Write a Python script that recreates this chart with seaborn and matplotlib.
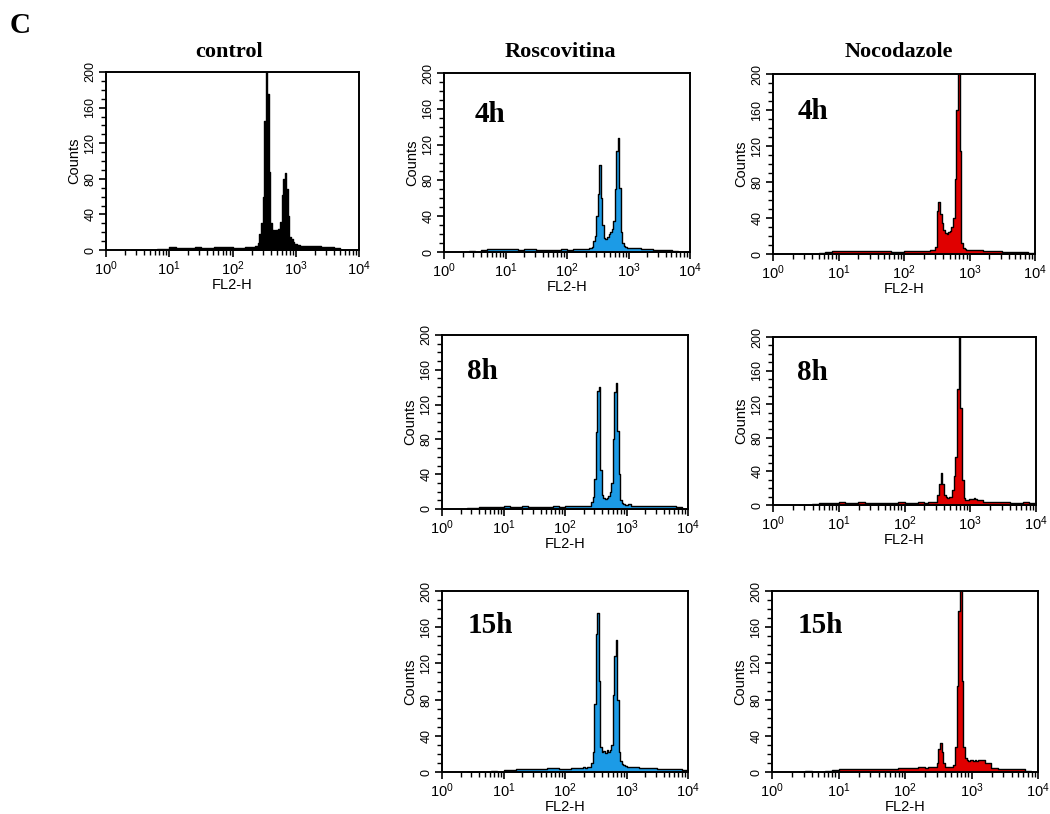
import numpy as np
import matplotlib
matplotlib.use("Agg")
import matplotlib.pyplot as plt
from matplotlib.ticker import MultipleLocator, LogLocator, NullFormatter
import seaborn as sns

# FL2-H bins in log10 units: coarse below the G1 peak, fine across G1/G2, coarse above
edges_log = np.concatenate([
    np.linspace(0.4, 2.3, 20)[:-1],
    np.linspace(2.3, 3.1, 33)[:-1],
    np.linspace(3.1, 4.0, 10),
])

# counts per bin: 19 low bins | 32 fine bins | 9 high bins
control = (
    [0, 0, 0, 0, 1, 1, 3, 2, 2, 2, 3, 2, 2, 3, 3, 3, 2, 2, 3]
    + [3, 3, 4, 5, 8, 18, 30, 60, 145, 215, 175, 88, 30, 22, 20, 22,
       20, 24, 32, 62, 80, 86, 68, 38, 15, 12, 9, 7, 7, 6, 6, 5]
    + [5, 4, 4, 3, 3, 2, 0, 0, 0]
)
rosco_4h = (
    [1, 0, 2, 3, 3, 3, 3, 3, 2, 3, 3, 2, 2, 2, 2, 3, 2, 3, 3]
    + [3, 3, 4, 4, 6, 12, 18, 40, 65, 97, 60, 30, 16, 15, 17, 20,
       22, 26, 35, 70, 113, 127, 72, 22, 10, 7, 6, 5, 5, 5, 4, 4]
    + [4, 3, 3, 2, 2, 2, 1, 0, 0]
)
rosco_8h = (
    [1, 1, 2, 2, 2, 2, 3, 2, 2, 3, 2, 2, 2, 2, 3, 2, 4, 3, 3]
    + [3, 3, 3, 3, 4, 8, 14, 35, 88, 136, 140, 45, 16, 13, 12, 13,
       15, 20, 30, 80, 135, 145, 90, 40, 10, 7, 6, 5, 5, 6, 6, 4]
    + [4, 3, 3, 3, 3, 3, 3, 2, 0]
)
rosco_15h = (
    [0, 0, 0, 0, 1, 0, 2, 2, 3, 3, 3, 3, 3, 4, 4, 3, 3, 4, 4]
    + [5, 4, 5, 5, 6, 10, 22, 75, 153, 176, 100, 28, 22, 23, 21, 24,
       22, 24, 30, 85, 128, 146, 80, 22, 12, 9, 8, 7, 6, 6, 5, 5]
    + [5, 4, 4, 4, 3, 3, 3, 3, 2]
)
noco_4h = (
    [0, 0, 0, 1, 2, 3, 3, 3, 3, 3, 3, 3, 3, 3, 2, 2, 3, 3, 3]
    + [3, 3, 3, 3, 4, 4, 5, 8, 48, 58, 45, 35, 27, 23, 22, 24,
       26, 30, 40, 83, 160, 215, 115, 12, 7, 6, 5, 5, 5, 5, 4, 4]
    + [4, 3, 3, 3, 2, 2, 2, 2, 1]
)
noco_8h = (
    [0, 0, 1, 2, 2, 2, 3, 2, 2, 3, 2, 2, 2, 2, 2, 3, 2, 2, 3]
    + [2, 2, 3, 3, 3, 3, 3, 4, 12, 25, 38, 25, 12, 9, 8, 9,
       10, 18, 35, 57, 138, 215, 115, 30, 8, 6, 6, 7, 7, 7, 8, 7]
    + [6, 4, 3, 3, 3, 2, 2, 3, 2]
)
noco_15h = (
    [0, 1, 0, 0, 1, 2, 3, 3, 3, 3, 3, 3, 3, 3, 3, 4, 4, 4, 5]
    + [4, 4, 5, 5, 5, 5, 6, 10, 25, 32, 22, 10, 6, 5, 5, 5,
       6, 8, 28, 95, 178, 215, 100, 28, 15, 13, 12, 13, 13, 12, 13, 12]
    + [13, 10, 4, 3, 3, 3, 3, 1, 0]
)

BLACK = "#000000"
BLUE = "#1c9be6"
RED = "#e00000"

# (counts, colour, time label, axes box in px: left, top, right, bottom, label x, label y)
panels = [
    (control, BLACK, None, (106, 72, 359, 250), 0, 0),
    (rosco_4h, BLUE, "4h", (444, 73, 690, 252), 0.126, 0.77),
    (noco_4h, RED, "4h", (773, 74, 1035, 254), 0.095, 0.79),
    (rosco_8h, BLUE, "8h", (442, 335, 688, 509), 0.10, 0.79),
    (noco_8h, RED, "8h", (773, 337, 1036, 505), 0.09, 0.79),
    (rosco_15h, BLUE, "15h", (442, 591, 688, 772), 0.106, 0.81),
    (noco_15h, RED, "15h", (772, 591, 1038, 772), 0.098, 0.81),
]

W, H = 1050, 814

sns.set_style("ticks")
plt.rcParams["font.family"] = ["Liberation Sans", "DejaVu Sans"]
plt.rcParams["mathtext.default"] = "regular"
plt.rcParams["text.color"] = "black"
plt.rcParams["axes.labelcolor"] = "black"

fig = plt.figure(figsize=(W / 100, H / 100), dpi=100)

edges = 10 ** edges_log
centers = np.sqrt(edges[:-1] * edges[1:])

for counts, color, label, (l, t, r, b), lx, ly in panels:
    ax = fig.add_axes([l / W, 1 - b / H, (r - l) / W, (b - t) / H])
    # bins passed as a list: seaborn compares bins == "auto" when weights are used
    sns.histplot(x=centers, weights=np.array(counts, dtype=float), bins=list(edges),
                 element="step", fill=True, color=color, edgecolor="black",
                 linewidth=1.0, alpha=1, ax=ax)
    ax.set_xscale("log")
    ax.set_xlim(1, 1e4)
    ax.set_ylim(0, 200)
    ax.set_yticks([0, 40, 80, 120, 160, 200])
    ax.yaxis.set_minor_locator(MultipleLocator(10))
    ax.xaxis.set_major_locator(LogLocator(base=10, numticks=10))
    ax.xaxis.set_minor_locator(LogLocator(base=10, subs=np.arange(2, 10), numticks=20))
    ax.xaxis.set_minor_formatter(NullFormatter())
    ax.tick_params(axis="x", which="major", length=5, width=1.2, labelsize=10.5,
                   colors="black", pad=2)
    ax.tick_params(axis="y", which="major", length=5, width=1.2, labelsize=9,
                   colors="black", labelrotation=90, pad=2)
    ax.tick_params(which="minor", length=3.5, width=1.0, colors="black")
    for lab in ax.get_yticklabels():
        lab.set_va("center")
    for sp in ax.spines.values():
        sp.set_linewidth(1.4)
        sp.set_color("black")
    ax.set_xlabel("FL2-H", fontsize=10.5, labelpad=0)
    ax.set_ylabel("Counts", fontsize=10.5, labelpad=2)
    if label:
        ax.text(lx, ly, label, transform=ax.transAxes, fontsize=21,
                fontweight="bold", family="Liberation Serif", va="center",
                color="black")

serif = dict(family="Liberation Serif", fontweight="bold", va="baseline",
             color="black")
fig.text(229 / W, 1 - 57 / H, "control", ha="center", fontsize=16, **serif)
fig.text(560 / W, 1 - 57 / H, "Roscovitina", ha="center", fontsize=16, **serif)
fig.text(899 / W, 1 - 57 / H, "Nocodazole", ha="center", fontsize=16, **serif)
fig.text(10 / W, 1 - 33 / H, "C", ha="left", fontsize=21, **serif)

fig.savefig("out.png", dpi=100)
